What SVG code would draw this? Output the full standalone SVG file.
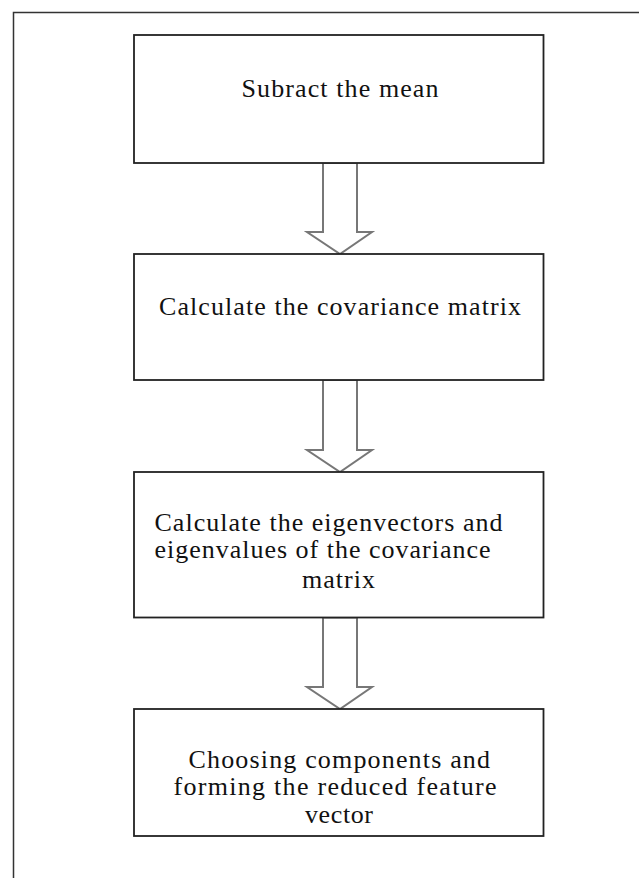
<svg xmlns="http://www.w3.org/2000/svg" width="639" height="878" viewBox="0 0 639 878">
<style>
.frame{fill:none;stroke:#333;stroke-width:1.5}
.box{fill:#fff;stroke:#222;stroke-width:1.8}
.arrow{fill:#fff;stroke:#777;stroke-width:2;stroke-linejoin:miter}
.t{font-family:"Liberation Serif","Times New Roman",serif;font-size:26px;fill:#111}
</style>
<rect width="639" height="878" fill="#fff"/>
<rect class="frame" x="13.5" y="12.5" width="700" height="900"/>
<g id="connectors">
<path class="arrow" d="M323,163 L357,163 L357,232 L372,232 L340,254 L307,232 L323,232 Z"/>
<path class="arrow" d="M323,380 L357,380 L357,450 L372,450 L340,472 L307,450 L323,450 Z"/>
<path class="arrow" d="M323,617.5 L357,617.5 L357,687 L372,687 L340,709 L307,687 L323,687 Z"/>
</g>
<g id="n1">
<rect class="box" x="134" y="35" width="409.5" height="128"/>
<text class="t" x="241.5" y="97" textLength="197" lengthAdjust="spacing">Subract the mean</text>
</g>
<g id="n2">
<rect class="box" x="134" y="254" width="409.5" height="126"/>
<text class="t" x="159" y="315" textLength="362" lengthAdjust="spacing">Calculate the covariance matrix</text>
</g>
<g id="n3">
<rect class="box" x="134" y="472" width="409.5" height="145.5"/>
<text class="t" x="154.5" y="531" textLength="348" lengthAdjust="spacing">Calculate the eigenvectors and</text>
<text class="t" x="154.5" y="557.5" textLength="336" lengthAdjust="spacing">eigenvalues of the covariance</text>
<text class="t" x="302" y="588" textLength="73" lengthAdjust="spacing">matrix</text>
</g>
<g id="n4">
<rect class="box" x="134" y="709" width="409.5" height="127"/>
<text class="t" x="188.5" y="768" textLength="301.5" lengthAdjust="spacing">Choosing components and</text>
<text class="t" x="173.5" y="795" textLength="323" lengthAdjust="spacing">forming the reduced feature</text>
<text class="t" x="305" y="823" textLength="68" lengthAdjust="spacing">vector</text>
</g>
</svg>
